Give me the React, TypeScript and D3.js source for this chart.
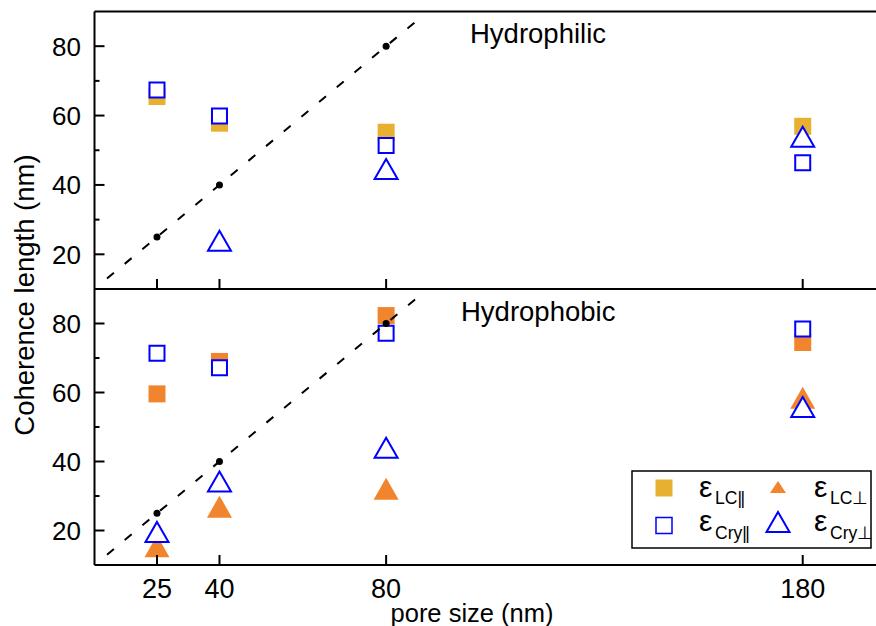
import React from 'react';
import * as d3 from 'd3';

const poreSizes = [ 25, 40, 80, 180 ];
const guideDots = [ 25, 40, 80 ];
const guideLine = [ 13, 87 ];

// Hydrophilic panel
const philicLcPar = [ 65.5, 57.8, 55.2, 56.9 ];
const philicCryPar = [ 67.4, 59.9, 51.4, 46.4 ];
const philicCryPerp = [ null, 23.9, 44.6, 53.9 ];

// Hydrophobic panel
const phobicLcPar = [ 59.6, 69.0, 82.3, 74.5 ];
const phobicCryPar = [ 71.4, 67.2, 77.2, 78.4 ];
const phobicLcPerp = [ 15.4, 26.9, 32.1, 58.5 ];
const phobicCryPerp = [ 19.6, 34.2, 44.0, 55.8 ];

const yMajor = [ 20, 40, 60, 80 ];
const yMinor = [ 30, 50, 70 ];

const GOLD = '#E8B030',
	ORANGE = '#F0852D',
	BLUE = '#0000FF',
	FONT = '"Liberation Sans", Arial, sans-serif';

const x = d3.scaleLinear().domain( [ 10, 200 ] ).range( [ 94.5, 94.5 + 190 * 4.166 ] );

const square = ( s: number ) => `M${-s / 2},${-s / 2}h${s}v${s}h${-s}Z`;
const triangle = ( w: number, h: number ) => `M0,${-h / 2}L${w / 2},${h / 2}L${-w / 2},${h / 2}Z`;

type Series = { values: ( number | null )[]; kind: 'sq' | 'sqOpen' | 'tri' | 'triOpen'; color: string };

const Marker = ( { kind, color, cx, cy }: { kind: Series[ 'kind' ]; color: string; cx: number; cy: number } ) => {
	const t = `translate(${cx},${cy})`;
	if ( kind === 'sq' ) return <path d={square( 17 )} transform={t} fill={color} />;
	if ( kind === 'sqOpen' ) return <path d={square( 15 )} transform={t} fill="white" stroke={color} strokeWidth={2} />;
	if ( kind === 'tri' ) return <path d={triangle( 25, 22 )} transform={t} fill={color} />;
	return <path d={triangle( 23, 20 )} transform={t} fill="white" stroke={color} strokeWidth={2} />;
};

const Panel = ( { top, bottom, series, label, labelX, labelY }: { top: number; bottom: number; series: Series[]; label: string; labelX: number; labelY: number } ) => {
	const y = d3.scaleLinear().domain( [ 10, 90 ] ).range( [ bottom, top ] );
	const line = d3.line<number>().x( ( d ) => x( d ) ).y( ( d ) => y( d ) );
	return (
		<g>
			{series.map( ( s, si ) =>
				s.values.map( ( v, i ) =>
					v === null ? null : <Marker key={`${si}-${i}`} kind={s.kind} color={s.color} cx={x( poreSizes[ i ] )} cy={y( v )} />
				)
			)}
			<path d={line( guideLine ) || ''} fill="none" stroke="black" strokeWidth={2} strokeDasharray="9,14" />
			{guideDots.map( ( d ) => <circle key={d} cx={x( d )} cy={y( d )} r={3.5} fill="black" />)}
			{/* frame */}
			<line x1={x( 10 )} x2={900} y1={top} y2={top} stroke="black" strokeWidth={2} />
			<line x1={x( 10 )} x2={900} y1={bottom} y2={bottom} stroke="black" strokeWidth={2} />
			<line x1={x( 10 )} x2={x( 10 )} y1={top} y2={bottom} stroke="black" strokeWidth={2} />
			{poreSizes.map( ( p ) => <line key={p} x1={x( p )} x2={x( p )} y1={bottom} y2={bottom - 10} stroke="black" strokeWidth={2} />)}
			{yMajor.map( ( t ) => (
				<g key={t}>
					<line x1={x( 10 )} x2={x( 10 ) + 10} y1={y( t )} y2={y( t )} stroke="black" strokeWidth={2} />
					<text x={81} y={y( t )} dy="0.36em" textAnchor="end" fontSize={26} fontFamily={FONT}>{t}</text>
				</g>
			) )}
			{yMinor.map( ( t ) => <line key={t} x1={x( 10 )} x2={x( 10 ) + 5} y1={y( t )} y2={y( t )} stroke="black" strokeWidth={2} /> )}
			<text x={labelX} y={labelY} fontSize={27.5} fontFamily={FONT}>{label}</text>
		</g>
	);
};

const LegendLabel = ( { x0, y0, sub, sym, dy }: { x0: number; y0: number; sub: string; sym: string; dy: number } ) => (
	<g fontFamily={FONT}>
		<text x={x0} y={y0} fontSize={30}>ε</text>
		<text x={x0 + 16} y={y0 + dy} fontSize={17.5}>
			{sub}<tspan letterSpacing={-1.5}>{sym}</tspan>
		</text>
	</g>
);

const App = () => {
	const philic: Series[] = [
		{ values: philicLcPar, kind: 'sq', color: GOLD },
		{ values: philicCryPar, kind: 'sqOpen', color: BLUE },
		{ values: philicCryPerp, kind: 'triOpen', color: BLUE },
	];
	const phobic: Series[] = [
		{ values: phobicLcPar, kind: 'sq', color: ORANGE },
		{ values: phobicCryPar, kind: 'sqOpen', color: BLUE },
		{ values: phobicLcPerp, kind: 'tri', color: ORANGE },
		{ values: phobicCryPerp, kind: 'triOpen', color: BLUE },
	];
	return (
		<svg width={876} height={626} style={{ position: 'absolute', left: 0, top: 0, background: 'white' }}>
			<Panel top={11.5} bottom={289} series={philic} label="Hydrophilic" labelX={470} labelY={43} />
			<Panel top={289} bottom={565} series={phobic} label="Hydrophobic" labelX={461} labelY={321} />
			{poreSizes.map( ( p ) => (
				<text key={p} x={x( p )} y={598} textAnchor="middle" fontSize={27} fontFamily={FONT}>{p}</text>
			) )}
			<text x={472} y={622} textAnchor="middle" fontSize={25.5} fontFamily={FONT}>pore size (nm)</text>
			<text transform="translate(34,295) rotate(-90)" textAnchor="middle" fontSize={27.5} fontFamily={FONT}>Coherence length (nm)</text>
			<g>
				<rect x={632} y={471} width={239} height={77} fill="white" stroke="black" strokeWidth={1.5} />
				<Marker kind="sq" color={GOLD} cx={664} cy={488} />
				<path d={triangle( 16, 12 )} transform="translate(778,487)" fill={ORANGE} />
				<path d={square( 16 )} transform="translate(664,525.5)" fill="white" stroke={BLUE} strokeWidth={1.5} />
				<Marker kind="triOpen" color={BLUE} cx={778} cy={522} />
				<LegendLabel x0={699} y0={497} sub="LC" sym="||" dy={7} />
				<LegendLabel x0={814} y0={497} sub="LC" sym="⊥" dy={7} />
				<LegendLabel x0={699} y0={531} sub="Cry" sym="||" dy={7.5} />
				<LegendLabel x0={814} y0={531} sub="Cry" sym="⊥" dy={7.5} />
			</g>
		</svg>
	);
};

export default App;
